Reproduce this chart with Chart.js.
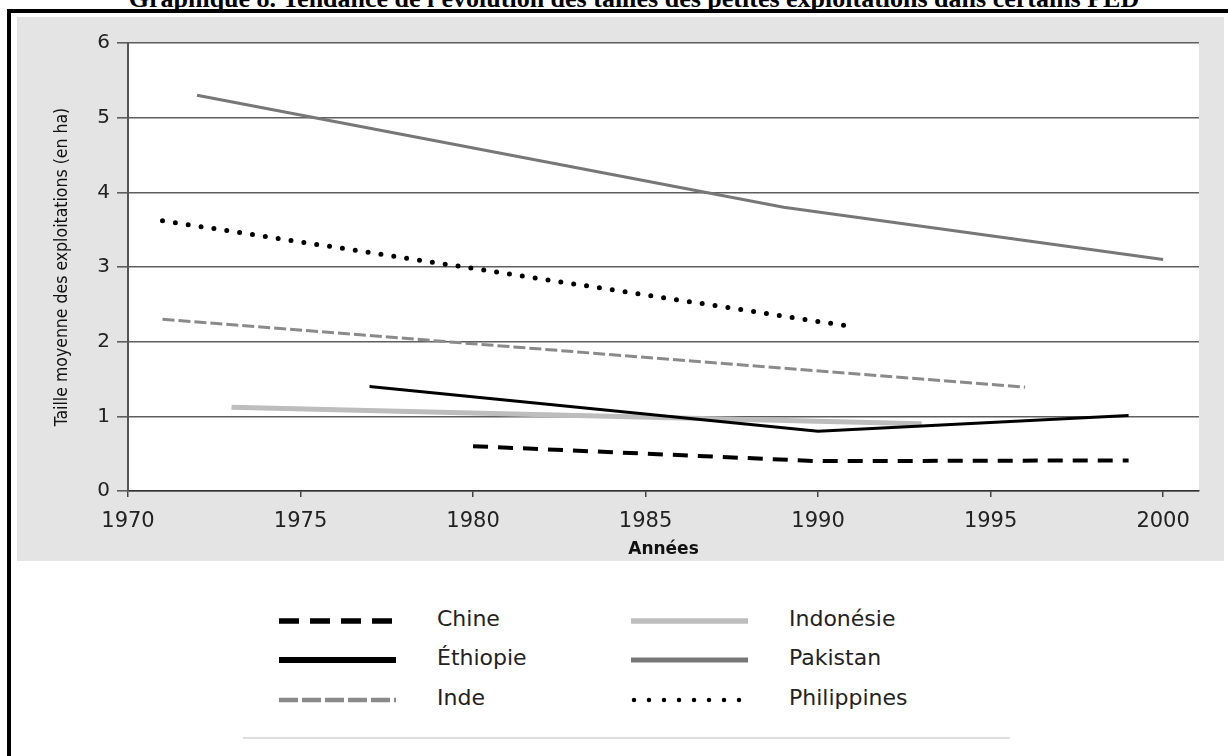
<!DOCTYPE html>
<html>
<head>
<meta charset="utf-8">
<script src="https://cdn.jsdelivr.net/npm/chart.js@4/dist/chart.umd.min.js"></script>
<style>
html,body{margin:0;padding:0;background:#fff;width:1228px;height:756px;overflow:hidden;position:relative;}
#title{position:absolute;left:15px;width:1238px;top:-16px;line-height:26px;text-align:center;font:bold 26px "Liberation Serif","Times New Roman",serif;color:#000;white-space:nowrap;}
#frameTop{position:absolute;left:7px;top:9px;width:1221px;height:4px;background:#000;}
#frameLeft{position:absolute;left:7px;top:9px;width:4px;height:747px;background:#000;}
#panel{position:absolute;left:17px;top:17px;width:1207px;height:544px;background:#e4e4e4;}
#chartBox{position:absolute;left:17px;top:17px;width:1207px;height:544px;}
#sep{position:absolute;left:243px;top:737px;width:767px;height:2px;background:#dddddd;}
.lg-sample{position:absolute;width:117px;height:12px;}
.lg-text{position:absolute;height:30px;line-height:30px;font:22px "DejaVu Sans",sans-serif;color:#222;white-space:nowrap;}
</style>
</head>
<body>
<div id="title">Graphique 8. Tendance de l'évolution des tailles des petites exploitations dans certains PED</div>
<div id="panel"></div>
<div id="chartBox"><canvas id="c" width="1207" height="544"></canvas></div>
<div id="frameTop"></div>
<div id="frameLeft"></div>
<div id="legend"></div>
<div id="sep"></div>
<script>
// ---- data ----
const seriesNames = ['Chine', 'Éthiopie', 'Inde', 'Indonésie', 'Pakistan', 'Philippines'];
const chineYears = [1980, 1990, 1999];
const chineValues = [0.6, 0.4, 0.41];
const ethiopieYears = [1977, 1990, 1999];
const ethiopieValues = [1.4, 0.8, 1.01];
const indeYears = [1971, 1996];
const indeValues = [2.3, 1.39];
const indonesieYears = [1973, 1993];
const indonesieValues = [1.12, 0.9];
const pakistanYears = [1972, 1989, 2000];
const pakistanValues = [5.3, 3.8, 3.1];
const philippinesYears = [1971, 1991];
const philippinesValues = [3.62, 2.2];
const xTicks = [1970, 1975, 1980, 1985, 1990, 1995, 2000];
const yTicks = [0, 1, 2, 3, 4, 5, 6];

const yearsList = [chineYears, ethiopieYears, indeYears, indonesieYears, pakistanYears, philippinesYears];
const valuesList = [chineValues, ethiopieValues, indeValues, indonesieValues, pakistanValues, philippinesValues];

// ---- styles ----
const styles = [
  {color:'#000000', width:4, dash:[15,10], cap:'butt', lgWidth:5.5, lgDash:[20,11], lgCap:'butt'},
  {color:'#000000', width:3, dash:[], cap:'butt', lgWidth:6, lgDash:[], lgCap:'butt'},
  {color:'#8a8a8a', width:3, dash:[12,4], cap:'butt', lgWidth:4.5, lgDash:[19,4], lgCap:'butt'},
  {color:'#bdbdbd', width:5, dash:[], cap:'butt', lgWidth:5.5, lgDash:[], lgCap:'butt'},
  {color:'#777777', width:3, dash:[], cap:'butt', lgWidth:5, lgDash:[], lgCap:'butt'},
  {color:'#000000', width:5, dash:[0,13], cap:'round', lgWidth:4.5, lgDash:[0,15], lgCap:'round'}
];
const drawOrder = [3, 4, 5, 2, 1, 0];

const datasets = seriesNames.map((name, i) => ({
  label: name,
  data: yearsList[i].map((yr, k) => ({x: yr, y: valuesList[i][k]})),
  borderColor: styles[i].color,
  borderWidth: styles[i].width,
  borderDash: styles[i].dash,
  borderCapStyle: styles[i].cap,
  pointRadius: 0,
  fill: false,
  tension: 0,
  order: drawOrder.indexOf(i) * -1
}));

const whiteArea = {
  id: 'whiteArea',
  beforeDraw(c) {
    const {ctx, chartArea: a} = c;
    ctx.save();
    ctx.fillStyle = '#ffffff';
    ctx.fillRect(a.left, a.top, a.right - a.left, a.bottom - a.top);
    ctx.restore();
  }
};

new Chart(document.getElementById('c'), {
  type: 'line',
  data: {datasets},
  options: {
    responsive: false,
    animation: false,
    devicePixelRatio: 1,
    layout: {padding: {top: 26, right: 25, left: 0, bottom: 0}},
    plugins: {legend: {display: false}, tooltip: {enabled: false}},
    scales: {
      x: {
        type: 'linear', min: 1970, max: 2001.04,
        afterBuildTicks: s => { s.ticks = xTicks.map(v => ({value: v})); },
        afterFit: s => { s.height = 70; },
        ticks: {callback: v => String(v), font: {family: 'DejaVu Sans', size: 21}, color: '#222', padding: 12, maxRotation: 0, autoSkip: false},
        grid: {drawOnChartArea: false, drawTicks: true, tickLength: 6, color: '#444', lineWidth: 1.5},
        border: {color: '#333', width: 1.5},
        title: {display: true, text: 'Années', font: {family: 'DejaVu Sans', size: 17, weight: 'bold'}, color: '#111', padding: {top: 0, bottom: 1}}
      },
      y: {
        type: 'linear', min: 0, max: 6,
        afterBuildTicks: s => { s.ticks = yTicks.map(v => ({value: v})); },
        afterFit: s => { s.width = 111; },
        ticks: {callback: v => String(v), font: {family: 'DejaVu Sans', size: 20}, color: '#222', padding: 7},
        grid: {color: '#5e5e5e', lineWidth: 1.6, tickLength: 11, drawTicks: true},
        border: {color: '#555', width: 2},
        title: {display: true, text: 'Taille moyenne des exploitations (en ha)', font: {family: "'DejaVu Sans Condensed','Liberation Sans'", size: 17.5}, color: '#111', padding: {top: 35, bottom: 0}}
      }
    }
  },
  plugins: [whiteArea]
});

// ---- legend (HTML, built from series names and styles) ----
const legend = document.getElementById('legend');
const colX = [279, 631];
const textX = [437, 789];
const rowY = [621, 660, 700];
seriesNames.forEach((name, i) => {
  const col = Math.floor(i / 3), row = i % 3;
  const st = styles[i];
  const svgNS = 'http://www.w3.org/2000/svg';
  const svg = document.createElementNS(svgNS, 'svg');
  svg.setAttribute('class', 'lg-sample');
  svg.setAttribute('width', '117'); svg.setAttribute('height', '12');
  svg.style.left = colX[col] + 'px';
  svg.style.top = (rowY[row] - 6) + 'px';
  const ln = document.createElementNS(svgNS, 'line');
  const x0 = st.lgCap === 'round' ? 3 : 0;
  ln.setAttribute('x1', x0); ln.setAttribute('x2', 117 - x0);
  ln.setAttribute('y1', 6); ln.setAttribute('y2', 6);
  ln.setAttribute('stroke', st.color);
  ln.setAttribute('stroke-width', st.lgWidth);
  ln.setAttribute('stroke-linecap', st.lgCap);
  if (st.lgDash.length) ln.setAttribute('stroke-dasharray', st.lgDash.join(' '));
  svg.appendChild(ln);
  legend.appendChild(svg);
  const t = document.createElement('div');
  t.className = 'lg-text';
  t.textContent = name;
  t.style.left = textX[col] + 'px';
  t.style.top = (rowY[row] - 15) + 'px';
  legend.appendChild(t);
});
</script>
</body>
</html>
